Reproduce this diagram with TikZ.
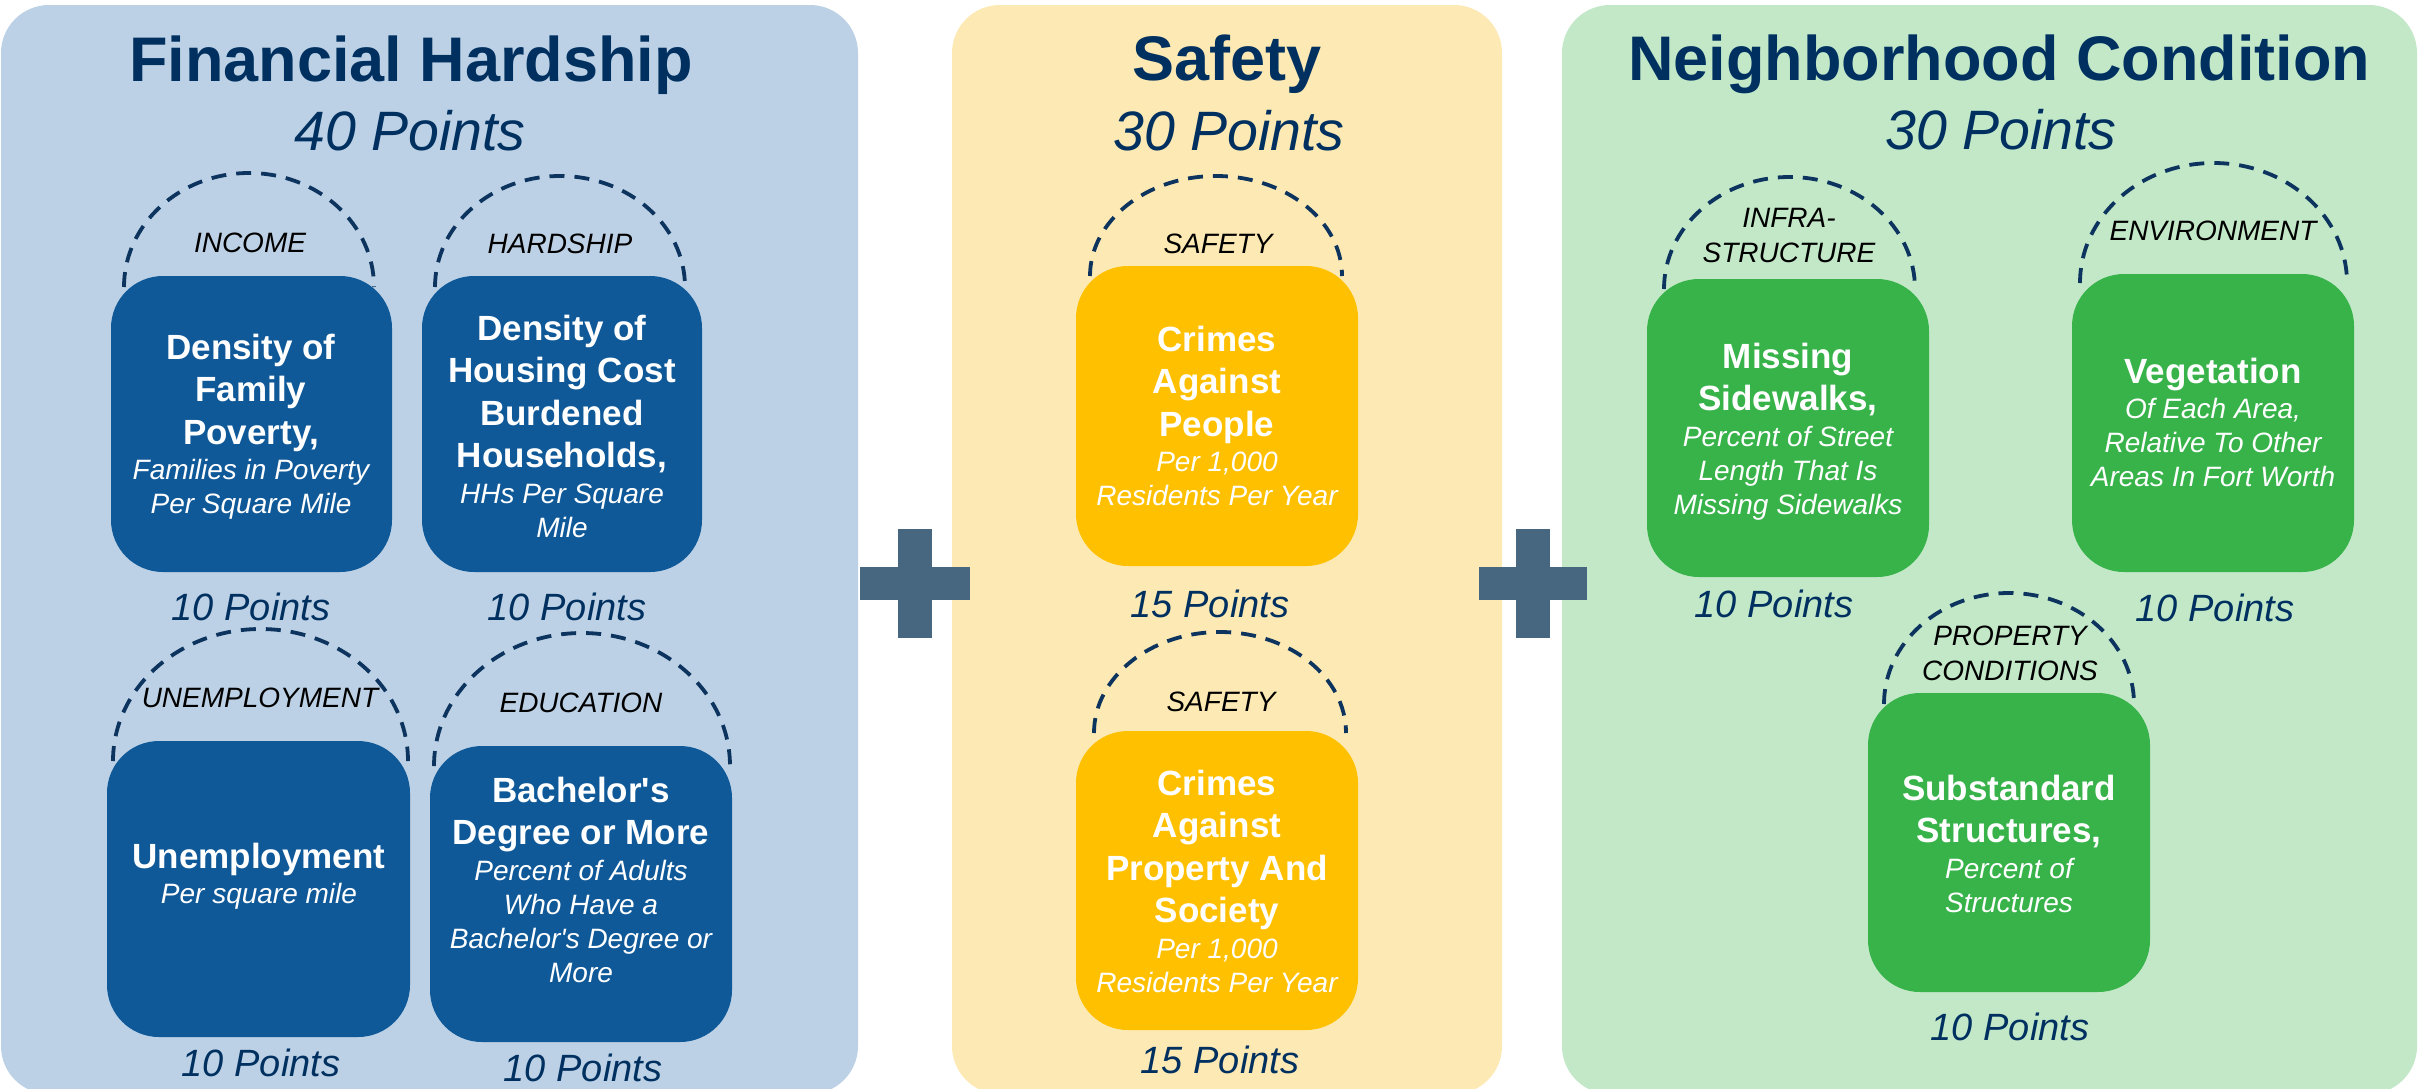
\documentclass[tikz,border=0pt]{standalone}
\usepackage{fontspec}
\setmainfont{Liberation Sans}
\setlength{\parindent}{0pt}
\definecolor{panelblue}{RGB}{188,209,229}
\definecolor{panelyellow}{RGB}{253,233,179}
\definecolor{panelgreen}{RGB}{194,232,200}
\definecolor{boxblue}{RGB}{15,89,153}
\definecolor{boxamber}{RGB}{255,192,0}
\definecolor{boxgreen}{RGB}{55,179,74}
\definecolor{navy}{RGB}{0,48,96}
\definecolor{plusc}{RGB}{70,103,127}
\definecolor{dashc}{RGB}{13,52,94}
\newcommand\fixsp{\spaceskip=\fontdimen2\font\relax\xspaceskip=\fontdimen2\font\relax}
\newcommand\btext[2]{\leftskip=0pt plus 1fil\rightskip=0pt plus 1fil\parfillskip=0pt{\fontsize{35}{42.5}\selectfont\bfseries\fixsp #1\par}\vspace{1.5pt}{\fontsize{28}{34}\selectfont\itshape\fixsp #2\par}}
\tikzset{
  panel/.style={rounded corners=48pt, draw=none},
  cbox/.style={rectangle, rounded corners=52pt, draw=none, inner sep=0pt, outer sep=0pt},
  btxt/.style={anchor=north, inner sep=0pt, align=center, text=white},
  title/.style={anchor=base, inner sep=0pt, text=navy, font=\fontsize{63}{75}\selectfont\bfseries},
  subtitle/.style={anchor=base, inner sep=0pt, text=navy, font=\fontsize{55.5}{66}\selectfont\itshape},
  pts/.style={anchor=base, inner sep=0pt, text=navy, font=\fontsize{38}{46}\selectfont\itshape},
  cat/.style={anchor=base, inner sep=0pt, text=black, font=\fontsize{28}{35}\selectfont\itshape},
  cat2/.style={anchor=north, inner sep=0pt, align=center, text=black, font=\fontsize{28}{35}\selectfont\itshape},
  dasharc/.style={draw=dashc, line width=3.8pt, dash pattern=on 15pt off 10pt},
}
\begin{document}
\begin{tikzpicture}[x=1pt,y=-1pt]
\path[use as bounding box] (0,0) rectangle (2420,1088);
\clip (0,0) rectangle (2420,1088);
\fill[white] (0,0) rectangle (2420,1088);
% panels
\fill[panelblue, panel] (1,5) rectangle (858,1094);
\fill[panelyellow, panel] (952,5) rectangle (1502,1094);
\fill[panelgreen, panel] (1562,5) rectangle (2417,1094);
% plus signs
\fill[plusc] (860,567) rectangle (970,600);
\fill[plusc] (898,529) rectangle (932,638);
\fill[plusc] (1479,567) rectangle (1587,600);
\fill[plusc] (1516,529) rectangle (1550,638);
% titles
\node[title] (t1) at (411,81) {Financial Hardship};
\node[subtitle] (s1) at (410,150) {40 Points};
\node[title] (t2) at (1227,80) {Safety};
\node[subtitle] (s2) at (1229,150) {30 Points};
\node[title] (t3) at (1999,80) {Neighborhood Condition};
\node[subtitle] (s3) at (2001,149) {30 Points};
% dashed arcs
\draw[dasharc] (124,287) arc[start angle=180, end angle=0, x radius=125pt, y radius=114pt];
\draw[dasharc] (435,287) arc[start angle=180, end angle=0, x radius=125pt, y radius=111pt];
\draw[dasharc] (113,761) arc[start angle=180, end angle=0, x radius=147.5pt, y radius=132pt];
\draw[dasharc] (434,766) arc[start angle=180, end angle=0, x radius=148pt, y radius=133pt];
\draw[dasharc] (1090,276) arc[start angle=180, end angle=0, x radius=126pt, y radius=100pt];
\draw[dasharc] (1094,733) arc[start angle=180, end angle=0, x radius=126pt, y radius=101pt];
\draw[dasharc] (1664,289) arc[start angle=180, end angle=0, x radius=125.5pt, y radius=112pt];
\draw[dasharc] (2080,283) arc[start angle=180, end angle=0, x radius=133.5pt, y radius=120pt];
\draw[dasharc] (1884,704) arc[start angle=180, end angle=0, x radius=125pt, y radius=111pt];
% category labels
\node[cat] (c1) at (250,252) {INCOME};
\node[cat] (c2) at (560,253) {HARDSHIP};
\node[cat] (c3) at (260,707) {UNEMPLOYMENT};
\node[cat] (c4) at (581,712) {EDUCATION};
\node[cat] (c5) at (1218,253) {SAFETY};
\node[cat] (c6) at (1221,711) {SAFETY};
\node[cat2] (c7) at (1789,208) {INFRA-\\STRUCTURE};
\node[cat] (c8) at (2213,240) {ENVIRONMENT};
\node[cat2] (c9) at (2010,626) {PROPERTY\\CONDITIONS};
% boxes
\node[cbox, fill=boxblue, minimum width=281pt, minimum height=296pt] (b1) at (251.5,424) {};
\node[cbox, fill=boxblue, minimum width=280pt, minimum height=296pt] (b2) at (562,424) {};
\node[cbox, fill=boxblue, minimum width=303pt, minimum height=296pt] (b3) at (258.5,889) {};
\node[cbox, fill=boxblue, minimum width=302pt, minimum height=296pt] (b4) at (581,894) {};
\node[cbox, fill=boxamber, minimum width=282pt, minimum height=300pt] (b5) at (1217,416) {};
\node[cbox, fill=boxamber, minimum width=282pt, minimum height=299pt] (b6) at (1217,880.5) {};
\node[cbox, fill=boxgreen, minimum width=282pt, minimum height=298pt] (b7) at (1788,428) {};
\node[cbox, fill=boxgreen, minimum width=282pt, minimum height=298pt] (b8) at (2213,423) {};
\node[cbox, fill=boxgreen, minimum width=282pt, minimum height=299pt] (b9) at (2009,842.5) {};
% box texts
\node[btxt, text width=281pt] (x1) at (251,333.6) {\btext{Density of\\Family\\Poverty,}{Families in Poverty\\Per Square Mile}};
\node[btxt, text width=280pt] (x2) at (562,314.6) {\btext{Density of\\Housing Cost\\Burdened\\Households,}{HHs Per Square\\Mile}};
\node[btxt, text width=300pt] (x3) at (259,842.6) {\btext{Unemployment}{Per square mile}};
\node[btxt, text width=300pt] (x4) at (581,776.6) {\btext{Bachelor\textquotesingle s\\Degree or More}{Percent of Adults\\Who Have a\\Bachelor\textquotesingle s Degree or\\More}};
\node[btxt, text width=282pt] (x5) at (1217,325.6) {\btext{Crimes\\Against\\People}{Per 1,000\\Residents Per Year}};
\node[btxt, text width=282pt] (x6) at (1217,769.6) {\btext{Crimes\\Against\\Property And\\Society}{Per 1,000\\Residents Per Year}};
\node[btxt, text width=282pt] (x7) at (1788,342.6) {\btext{Missing\\Sidewalks,}{Percent of Street\\Length That Is\\Missing Sidewalks}};
\node[btxt, text width=282pt] (x8) at (2213,357.6) {\btext{Vegetation}{Of Each Area,\\Relative To Other\\Areas In Fort Worth}};
\node[btxt, text width=282pt] (x9) at (2009,774.6) {\btext{Substandard\\Structures,}{Percent of\\Structures}};
% points
\node[pts] (p1) at (251,620) {10 Points};
\node[pts] (p2) at (567,620) {10 Points};
\node[pts] (p3) at (261,1076) {10 Points};
\node[pts] (p4) at (583,1081) {10 Points};
\node[pts] (p5) at (1210,617) {15 Points};
\node[pts] (p6) at (1220,1073) {15 Points};
\node[pts] (p7) at (1774,617) {10 Points};
\node[pts] (p8) at (2215,621) {10 Points};
\node[pts] (p9) at (2010,1040) {10 Points};
\end{tikzpicture}
\end{document}
